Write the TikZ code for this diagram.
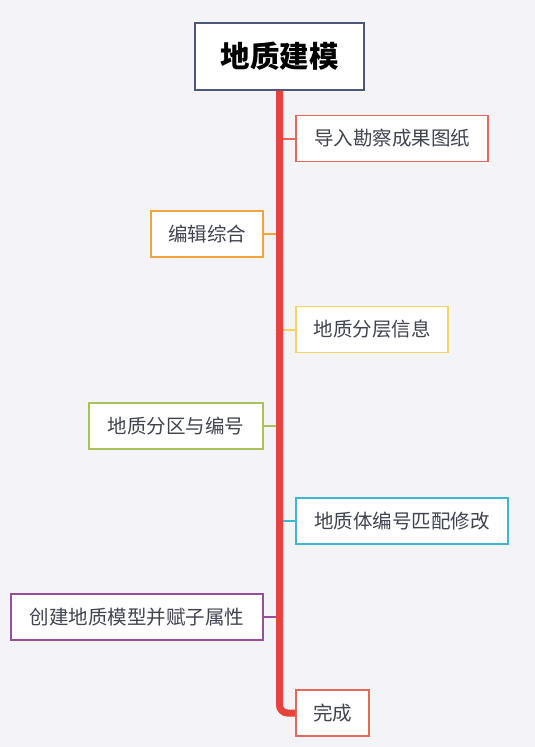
\documentclass[tikz,border=0pt]{standalone}
\usepackage{fontspec}
\setmainfont{Noto Sans CJK SC}
\definecolor{bg}{HTML}{F4F4F8}
\definecolor{spine}{HTML}{E8433A}
\definecolor{cred}{HTML}{E8675C}
\definecolor{corange}{HTML}{F3A33C}
\definecolor{cyellow}{HTML}{F8D35E}
\definecolor{cgreen}{HTML}{A8C25A}
\definecolor{ccyan}{HTML}{3DB8D2}
\definecolor{cpurple}{HTML}{994E9C}
\definecolor{ctitle}{HTML}{4B5877}
\definecolor{ctext}{HTML}{3F4450}
\tikzset{
  leaf/.style={draw=#1, line width=1.5pt, fill=white, minimum height=46pt, inner sep=0pt,
    text=ctext, font=\fontsize{19.5}{22}\selectfont},
  link/.style={draw=#1, line width=2pt},
}
\begin{document}
\begin{tikzpicture}[x=1pt,y=-1pt]
\fill[bg] (0,0) rectangle (535,747);
\useasboundingbox (0,0) rectangle (535,747);
\node[draw=ctitle, line width=1.5pt, fill=white, minimum width=169pt, minimum height=67pt, inner sep=0pt,
  font=\fontsize{29.5}{33}\selectfont\bfseries, text=black] (title) at (279.5,56.5) {地质建模};
\node[leaf=cred, minimum width=192pt] (b1) at (392,138.5) {导入勘察成果图纸};
\node[leaf=corange, minimum width=112pt] (b2) at (207,234) {编辑综合};
\node[leaf=cyellow, minimum width=152pt] (b3) at (372,329.5) {地质分层信息};
\node[leaf=cgreen, minimum width=174pt] (b4) at (176,426) {地质分区与编号};
\node[leaf=ccyan, minimum width=212pt] (b5) at (402,521) {地质体编号匹配修改};
\node[leaf=cpurple, minimum width=252pt] (b6) at (137,617) {创建地质模型并赋子属性};
\node[leaf=cred, minimum width=73pt] (b7) at (332.5,713) {完成};
\draw[link=cred] (b1.west -| title.south) -- (b1.west);
\draw[link=corange] (b2.east -| title.south) -- (b2.east);
\draw[link=cyellow] (b3.west -| title.south) -- (b3.west);
\draw[link=cgreen] (b4.east -| title.south) -- (b4.east);
\draw[link=ccyan] (b5.west -| title.south) -- (b5.west);
\draw[link=cpurple] (b6.east -| title.south) -- (b6.east);
\draw[spine, line width=7pt, rounded corners=8pt] (title.south) |- (b7.west);
\end{tikzpicture}
\end{document}
